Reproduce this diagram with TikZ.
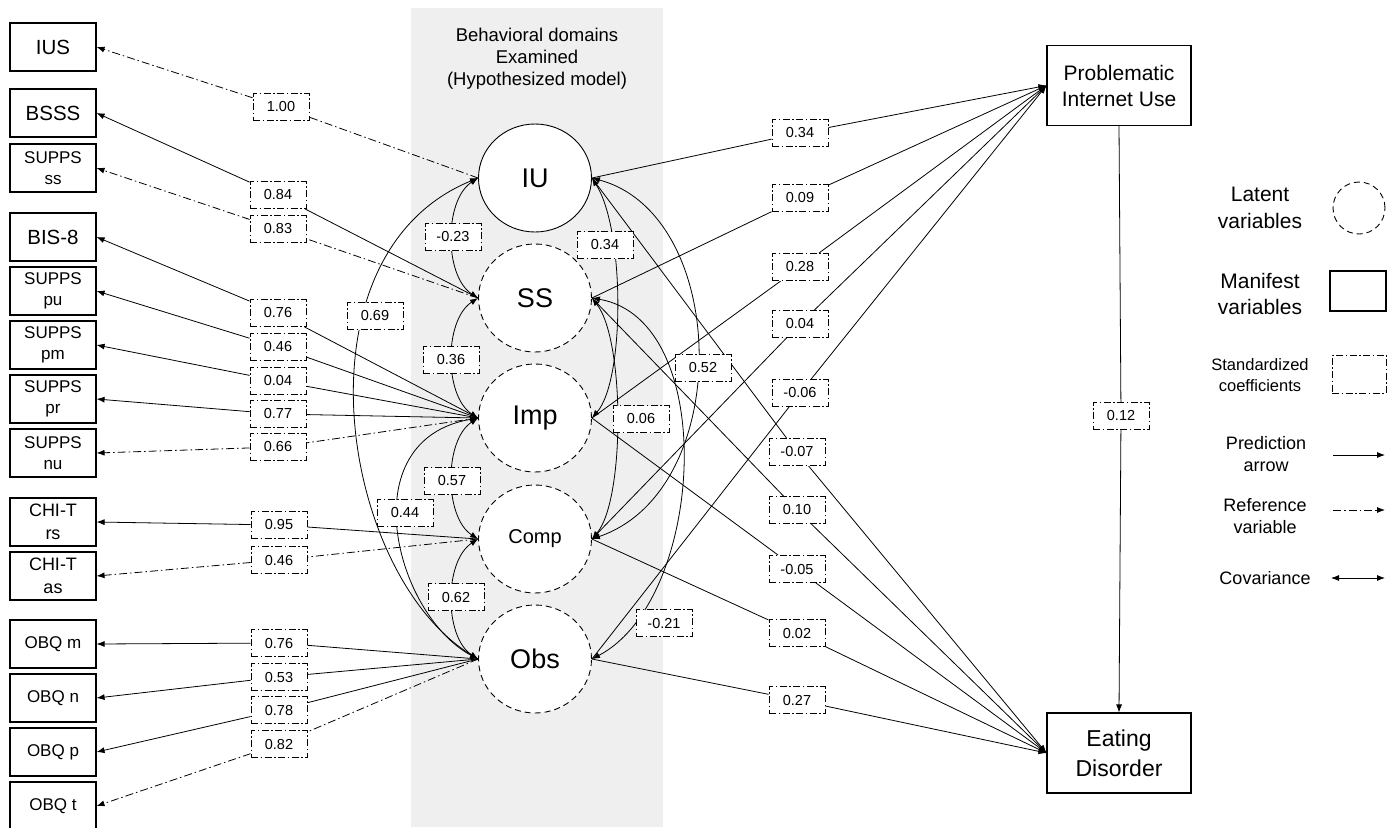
\documentclass[tikz,border=0pt]{standalone}
\usepackage{fontspec}
\setmainfont{Liberation Sans}
\usetikzlibrary{arrows.meta,shapes.geometric}
\pgfdeclarelayer{bg}
\pgfdeclarelayer{lines}
\pgfsetlayers{bg,lines,main}
\definecolor{bandgray}{RGB}{239,239,239}
\begin{document}
\begin{tikzpicture}[x=1pt,y=-1pt,
  man/.style={draw,line width=1.1pt,fill=white,minimum width=86pt,minimum height=48pt,inner sep=0pt,align=center,font=\fontsize{17}{21}\selectfont},
  manbig/.style={man,font=\fontsize{20.5}{22}\selectfont},
  outc/.style={draw,line width=1.1pt,fill=white,minimum width=144pt,minimum height=80pt,inner sep=0pt,align=center},
  lat/.style={ellipse,draw,fill=white,line width=0.9pt,dash pattern=on 6pt off 4pt,minimum width=113pt,minimum height=108pt,inner sep=0pt,font=\fontsize{27}{29}\selectfont},
  coef/.style={draw,fill=white,line width=0.9pt,dash pattern=on 7pt off 2.5pt on 1.5pt off 2.5pt,minimum width=56pt,minimum height=27pt,inner sep=0pt,font=\fontsize{14.5}{16}\selectfont},
  pred/.style={line width=0.8pt,-{Latex[length=8pt,width=6pt]}},
  refl/.style={pred,dash pattern=on 8pt off 3pt on 1.5pt off 3pt},
  cov/.style={line width=0.8pt,{Latex[length=8pt,width=6pt]}-{Latex[length=8pt,width=6pt]}},
  legt/.style={align=center,inner sep=0pt,font=\fontsize{18}{22}\selectfont},
]
\useasboundingbox (0,0) rectangle (1396,827);
\begin{pgfonlayer}{bg}
  \fill[bandgray] (411,8) rectangle (663,827);
\end{pgfonlayer}

% title
\node[align=center,font=\fontsize{18.5}{22}\selectfont] (title) at (537,59) {Behavioral domains\\Examined\\(Hypothesized model)};

% manifest indicators
\node[manbig] (m1) at (53,47) {IUS};
\node[manbig] (m2) at (53,113) {BSSS};
\node[man] (m3) at (53,168) {SUPPS\\ss};
\node[manbig] (m4) at (53,237) {BIS-8};
\node[man] (m5) at (53,291) {SUPPS\\pu};
\node[man] (m6) at (53,345) {SUPPS\\pm};
\node[man] (m7) at (53,399) {SUPPS\\pr};
\node[man] (m8) at (53,453) {SUPPS\\nu};
\node[man,font=\fontsize{18}{23}\selectfont] (m9) at (53,522) {CHI-T\\rs};
\node[man,font=\fontsize{18}{23}\selectfont] (m10) at (53,576) {CHI-T\\as};
\node[man] (m11) at (53,644) {OBQ m};
\node[man] (m12) at (53,698) {OBQ n};
\node[man] (m13) at (53,752) {OBQ p};
\node[man] (m14) at (53,806) {OBQ t};

% latent variables
\node[lat,solid] (IU) at (535,178) {IU};
\node[lat] (SS) at (535,298) {SS};
\node[lat] (Imp) at (535,418) {Imp};
\node[lat,font=\fontsize{20}{22}\selectfont] (Comp) at (535,539) {Comp};
\node[lat] (Obs) at (535,659) {Obs};

% outcomes
\node[outc,font=\fontsize{21}{26}\selectfont] (PIU) at (1119,85.5) {Problematic\\Internet Use};
\node[outc,font=\fontsize{23}{30}\selectfont] (ED) at (1119,753) {Eating\\Disorder};

% loading coefficients
\node[coef] (l1) at (281,107) {1.00};
\node[coef] (l2) at (278,195) {0.84};
\node[coef] (l3) at (278,229) {0.83};
\node[coef] (l4) at (278,313) {0.76};
\node[coef] (l5) at (278,347) {0.46};
\node[coef] (l6) at (278,381) {0.04};
\node[coef] (l7) at (278,414) {0.77};
\node[coef] (l8) at (278,447) {0.66};
\node[coef] (l9) at (279,525) {0.95};
\node[coef] (l10) at (279,560) {0.46};
\node[coef] (l11) at (279,643) {0.76};
\node[coef] (l12) at (279,677) {0.53};
\node[coef] (l13) at (279,710) {0.78};
\node[coef] (l14) at (279,744) {0.82};

% regression coefficients
\node[coef] (r1) at (800,133) {0.34};
\node[coef] (r2) at (800,198) {0.09};
\node[coef] (r3) at (800,267) {0.28};
\node[coef] (r4) at (800,324) {0.04};
\node[coef] (r5) at (800,393) {-0.06};
\node[coef] (r6) at (797,452) {-0.07};
\node[coef] (r7) at (797,510) {0.10};
\node[coef] (r8) at (797,569) {-0.05};
\node[coef] (r9) at (797,633) {0.02};
\node[coef] (r10) at (797,700) {0.27};
\node[coef] (p12) at (1121,416) {0.12};

% covariance coefficients
\node[coef] (c1) at (453,237) {-0.23};
\node[coef] (c2) at (451,360) {0.36};
\node[coef] (c3) at (452,481) {0.57};
\node[coef] (c4) at (456,597) {0.62};
\node[coef] (c5) at (405,513) {0.44};
\node[coef] (c6) at (375,316) {0.69};
\node[coef] (c7) at (605,245) {0.34};
\node[coef] (c8) at (641,419) {0.06};
\node[coef] (c9) at (703,368) {0.52};
\node[coef] (c10) at (664,623) {-0.21};

\begin{pgfonlayer}{lines}
  % loadings
  \draw[refl] (IU.west) -- (l1) -- (m1.east);
  \draw[pred] (SS.west) -- (l2) -- (m2.east);
  \draw[refl] (SS.west) -- (l3) -- (m3.east);
  \draw[pred] (Imp.west) -- (l4) -- (m4.east);
  \draw[pred] (Imp.west) -- (l5) -- (m5.east);
  \draw[pred] (Imp.west) -- (l6) -- (m6.east);
  \draw[pred] (Imp.west) -- (l7) -- (m7.east);
  \draw[refl] (Imp.west) -- (l8) -- (m8.east);
  \draw[pred] (Comp.west) -- (l9) -- (m9.east);
  \draw[refl] (Comp.west) -- (l10) -- (m10.east);
  \draw[pred] (Obs.west) -- (l11) -- (m11.east);
  \draw[pred] (Obs.west) -- (l12) -- (m12.east);
  \draw[pred] (Obs.west) -- (l13) -- (m13.east);
  \draw[refl] (Obs.west) -- (l14) -- (m14.east);
  % regressions
  \draw[pred] (IU.east) -- (r1) -- (PIU.west);
  \draw[pred] (SS.east) -- (r2) -- (PIU.west);
  \draw[pred] (Imp.east) -- (r3) -- (PIU.west);
  \draw[pred] (Comp.east) -- (r4) -- (PIU.west);
  \draw[pred] (Obs.east) -- (r5) -- (PIU.west);
  \draw[pred] (IU.east) -- (r6) -- (ED.west);
  \draw[pred] (SS.east) -- (r7) -- (ED.west);
  \draw[pred] (Imp.east) -- (r8) -- (ED.west);
  \draw[pred] (Comp.east) -- (r9) -- (ED.west);
  \draw[pred] (Obs.east) -- (r10) -- (ED.west);
  \draw[pred] (PIU.south) -- (p12) -- (ED.north);
  % covariances
  \draw[cov] (IU.west) .. controls (444,200) and (444,276) .. (SS.west);
  \draw[cov] (SS.west) .. controls (444,320) and (444,396) .. (Imp.west);
  \draw[cov] (Imp.west) .. controls (444,440) and (444,517) .. (Comp.west);
  \draw[cov] (Comp.west) .. controls (444,561) and (444,637) .. (Obs.west);
  \draw[cov] (Imp.west) .. controls (350,440) and (395,615) .. (Obs.west);
  \draw[cov] (IU.west) .. controls (290,255) and (340,575) .. (Obs.west);
  \draw[cov] (IU.east) .. controls (625,230) and (625,380) .. (Imp.east);
  \draw[cov] (SS.east) .. controls (625,340) and (625,500) .. (Comp.east);
  \draw[cov] (IU.east) .. controls (730,215) and (735,490) .. (Comp.east);
  \draw[cov] (SS.east) .. controls (720,320) and (705,600) .. (Obs.east);
\end{pgfonlayer}

% legend
\node[legt,font=\fontsize{21}{27}\selectfont] (lg1) at (1260,208) {Latent\\variables};
\node[circle,draw,line width=0.9pt,dash pattern=on 6pt off 4pt,minimum size=52pt,inner sep=0pt] (lgc) at (1359,208) {};
\node[legt,font=\fontsize{21}{26}\selectfont] (lg2) at (1260,294) {Manifest\\variables};
\node[draw,line width=1.1pt,minimum width=56pt,minimum height=40pt,inner sep=0pt] (lgr) at (1358,291) {};
\node[legt,font=\fontsize{16.5}{21}\selectfont] (lg3) at (1260,375) {Standardized\\coefficients};
\node[coef,minimum width=54pt,minimum height=38pt] (lgs) at (1359,374) {};
\node[legt] (lg4) at (1266,454) {Prediction\\arrow};
\coordinate (a1s) at (1333,455);
\coordinate (a1e) at (1385,455);
\draw[pred] (a1s) -- (a1e);
\node[legt] (lg5) at (1265,516) {Reference\\variable};
\coordinate (a2s) at (1333,510);
\coordinate (a2e) at (1385,510);
\draw[refl] (a2s) -- (a2e);
\node[legt] (lg6) at (1265,578) {Covariance};
\coordinate (a3s) at (1331,578);
\coordinate (a3e) at (1385,578);
\draw[cov] (a3s) -- (a3e);
\end{tikzpicture}
\end{document}
